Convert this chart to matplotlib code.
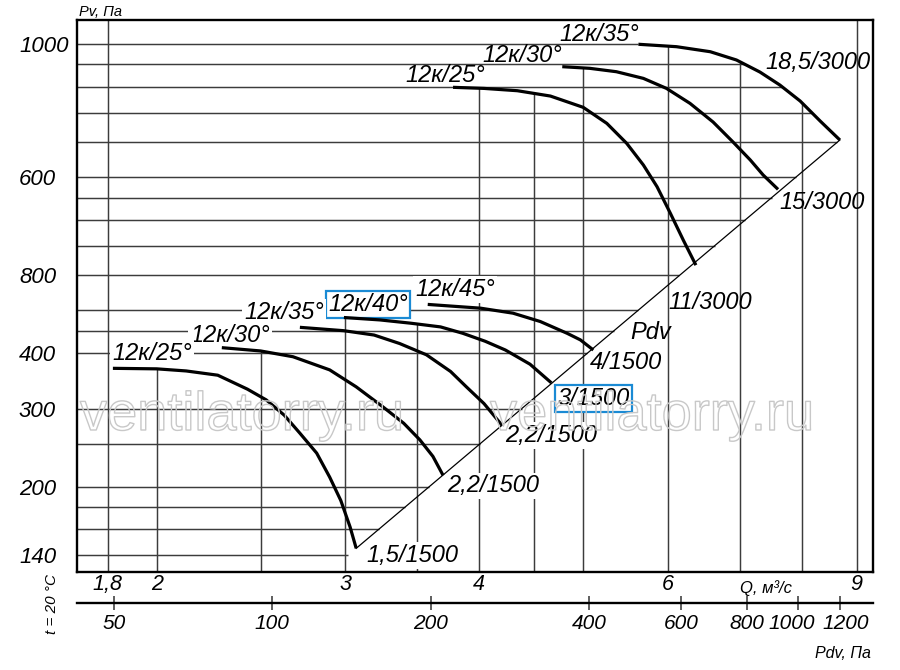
import numpy as np
import matplotlib
matplotlib.use('Agg')
import matplotlib.pyplot as plt
import matplotlib.patheffects as pe
import matplotlib.transforms as mtransforms
from matplotlib.ticker import NullLocator

# ---------------- data (Q in m3/s, Pv in Pa) ----------------
# 1500 rpm group
q_25_low = [1.82, 2.00, 2.13, 2.28, 2.43, 2.53, 2.63, 2.72, 2.82, 2.90, 2.97, 3.03, 3.07]
pv_25_low = [370, 369, 365, 357, 332, 314, 290, 264, 238, 210, 186, 162, 145]
q_30_low = [2.30, 2.50, 2.68, 2.90, 3.07, 3.25, 3.40, 3.52, 3.62, 3.70]
pv_30_low = [412, 405, 393, 367, 336, 303, 278, 255, 234, 212]
q_35_low = [2.72, 2.99, 3.19, 3.37, 3.57, 3.76, 3.89, 4.04, 4.20]
pv_35_low = [458, 450, 440, 421, 397, 364, 336, 308, 275]
q_40_low = [2.99, 3.23, 3.45, 3.68, 3.86, 4.05, 4.23, 4.46, 4.67]
pv_40_low = [482, 476, 468, 459, 444, 426, 407, 378, 343]
q_45_low = [3.58, 4.01, 4.30, 4.56, 4.83, 4.97, 5.11]
pv_45_low = [516, 506, 493, 472, 444, 429, 407]
# 3000 rpm group
q_25_high = [3.78, 4.04, 4.34, 4.66, 5.00, 5.26, 5.49, 5.69, 5.86, 6.03, 6.20, 6.37]
pv_25_high = [1597, 1588, 1569, 1526, 1439, 1324, 1193, 1066, 952, 829, 721, 633]
q_30_high = [4.78, 5.07, 5.37, 5.69, 5.98, 6.29, 6.61, 6.90, 7.16, 7.36, 7.60]
pv_30_high = [1778, 1763, 1732, 1673, 1588, 1469, 1333, 1201, 1094, 1012, 939]
q_35_high = [5.63, 6.11, 6.57, 6.95, 7.31, 7.63, 7.97, 8.32, 8.68]
pv_35_high = [1998, 1973, 1922, 1841, 1729, 1616, 1487, 1340, 1214]
# dynamic pressure line through the curve ends
pdv_q = [3.07, 8.68]
pdv_pv = [145, 1214]

# axes ticks / grid
q_ticks = [1.8, 2, 3, 4, 6, 9]
q_tick_labels = ['1,8', '2', '3', '4', '6', '9']
q_grid = [1.8, 2, 2.5, 3, 3.5, 4, 4.5, 5, 6, 7, 8, 9]
pv_ticks = [140, 200, 300, 400, 600, 1000, 2000]
pv_tick_labels = ['140', '200', '300', '400', '800', '600', '1000']
pv_grid = [140, 160, 180, 200, 250, 300, 400, 450, 500, 600, 700, 800,
           900, 1000, 1200, 1400, 1600, 1800, 2000]
pdv_ticks = [50, 100, 200, 400, 600, 800, 1000, 1200]
pdv_tick_labels = ['50', '100', '200', '400', '600', '800', '1000', '1200']

all_curves = [(q_25_low, pv_25_low), (q_30_low, pv_30_low), (q_35_low, pv_35_low),
              (q_40_low, pv_40_low), (q_45_low, pv_45_low),
              (q_25_high, pv_25_high), (q_30_high, pv_30_high), (q_35_high, pv_35_high)]

# ---------------- figure ----------------
plt.rcParams['font.family'] = ['Liberation Sans', 'DejaVu Sans']
plt.rcParams['font.style'] = 'italic'

W, H = 900, 670
fig = plt.figure(figsize=(9, 6.7), dpi=100)
L, R, T, B = 77.3, 872.7, 20, 571.7
ax = fig.add_axes([L / W, 1 - B / H, (R - L) / W, (B - T) / H])
ax.set_xscale('log')
ax.set_yscale('log')
XMIN, XMAX = 1.686, 9.314
YMIN, YMAX = 128.4, 2267
ax.set_xlim(XMIN, XMAX)
ax.set_ylim(YMIN, YMAX)

ax.set_xticks(q_ticks, q_tick_labels)
ax.set_yticks(pv_ticks, pv_tick_labels)
ax.xaxis.set_minor_locator(NullLocator())
ax.yaxis.set_minor_locator(NullLocator())
ax.tick_params(axis='x', length=0, pad=2, labelsize=15.5)
ax.tick_params(axis='y', length=0, pad=42, labelsize=16)
for t in ax.get_yticklabels():
    t.set_horizontalalignment('left')
for s in ax.spines.values():
    s.set_linewidth(1.7)

grid_kw = dict(color='#3c3c3c', lw=1.05, zorder=1)


def curve_top(q):
    vals = []
    for cq, cp in all_curves:
        if cq[0] <= q <= cq[-1]:
            vals.append(10 ** np.interp(np.log10(q), np.log10(cq), np.log10(cp)))
    return max(vals) if vals else YMAX


def right_edge(p):
    if p <= pdv_pv[1]:
        lq = np.log10(pdv_q)
        lp = np.log10(pdv_pv)
        return 10 ** (lq[0] + (np.log10(p) - lp[0]) * (lq[1] - lq[0]) / (lp[1] - lp[0]))
    cq, cp = q_35_high, pv_35_high
    if p >= cp[0]:
        return cq[0]
    return 10 ** np.interp(np.log10(p), np.log10(cp[::-1]), np.log10(cq[::-1]))


for q in q_grid:
    ax.vlines(q, YMIN, curve_top(q), **grid_kw)
for p in pv_grid:
    ax.hlines(p, XMIN, right_edge(p), **grid_kw)

# Pdv line
ax.plot(pdv_q, pdv_pv, color='black', lw=0.9, zorder=4)

# curves
for cq, cp in all_curves:
    ax.plot(cq, cp, color='black', lw=2.3, solid_capstyle='butt',
            solid_joinstyle='round', zorder=5)

BLUE = '#1a8ad4'


def label(q, p, s, white=False, edge=None):
    kw = {}
    if white or edge:
        kw['bbox'] = dict(boxstyle='square,pad=0.08', fc='white',
                          ec=edge if edge else 'none', lw=1.6)
    ax.text(q, p, s, fontsize=17, ha='left', va='baseline', zorder=3, **kw)


# lower labels drawn from top to bottom so each lower box sits on top
label(3.484, 539, '12к/45°', white=True)
label(2.89, 498.6, '12к/40°', edge=BLUE)
label(2.412, 478, '12к/35°', white=True)
label(2.148, 424, '12к/30°', white=True)
label(1.817, 386, '12к/25°', white=True)
label(3.41, 1642, '12к/25°')
label(4.03, 1822, '12к/30°')
label(4.746, 2033, '12к/35°')
label(7.39, 1757, '18,5/3000')
label(7.63, 848, '15/3000')
label(6.0, 504, '11/3000')
label(5.53, 431, 'Pdv')
label(5.07, 369, '4/1500', white=True)
label(4.73, 306, '3/1500', edge=BLUE)
label(4.23, 252, '2,2/1500', white=True)
label(3.73, 194, '2,2/1500', white=True)
label(3.14, 135, '1,5/1500', white=True)

# Pdv axis (second scale)
ax2 = fig.add_axes([L / W, 1 - 603.3 / H, (R - L) / W, 0.0001])
ax2.set_xscale('log')
ax2.set_xlim(42.6, 1386)
for s in ['top', 'left', 'right']:
    ax2.spines[s].set_visible(False)
ax2.spines['bottom'].set_linewidth(1.7)
ax2.set_yticks([])
ax2.set_xticks(pdv_ticks, pdv_tick_labels)
ax2.xaxis.set_minor_locator(NullLocator())
ax2.tick_params(axis='x', direction='inout', length=10, width=1.1, color='#333333',
                pad=3, labelsize=15)
ax2.patch.set_visible(False)
# nudge the two crowded right-most labels apart, as in the original
shifts = {'1000': -6, '1200': 6}
for t in ax2.get_xticklabels():
    dx = shifts.get(t.get_text(), 0)
    if dx:
        t.set_transform(t.get_transform() +
                        mtransforms.ScaledTranslation(dx / 100, 0, fig.dpi_scale_trans))

# axis titles
fig.text(79 / W, 1 - 16 / H, 'Pv, Па', fontsize=10.5, ha='left', va='baseline')
fig.text(740 / W, 1 - 593 / H, 'Q, м³/с', fontsize=12, ha='left', va='baseline')
fig.text(815 / W, 1 - 658 / H, 'Pdv, Па', fontsize=11.5, ha='left', va='baseline')
fig.text(52 / W, 1 - 604 / H, 't = 20 °C', fontsize=11, rotation=90,
         ha='center', va='center')

# watermark (hollow outline text)
for xw in (80, 490):
    fig.text(xw / W, 1 - 430 / H, 'ventilatorry.ru', fontsize=39, fontstyle='normal',
             color=(1, 1, 1, 0), ha='left', va='baseline', zorder=10,
             path_effects=[pe.Stroke(linewidth=1.0, foreground='#c8c8c8')])

fig.savefig('out.png', dpi=100)
